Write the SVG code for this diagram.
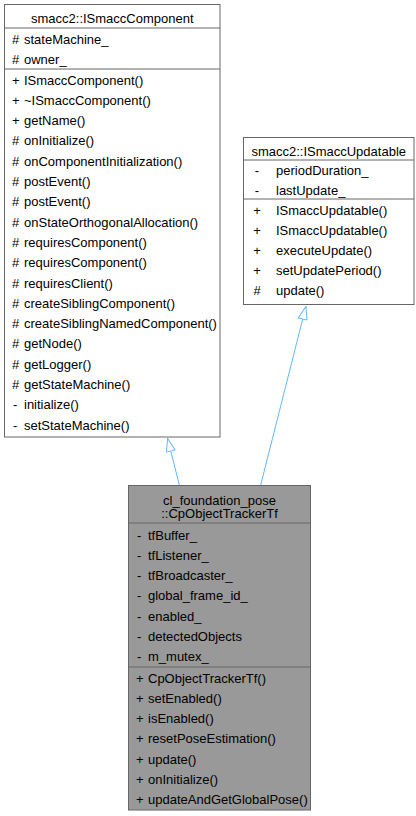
<svg xmlns="http://www.w3.org/2000/svg" width="416" height="816" viewBox="0 0 416 816">
<style>
.box{fill:#fff;stroke:#666;stroke-width:1}
.boxg{fill:#999;stroke:#666;stroke-width:1}
.sep{stroke:#666;stroke-width:1}
text{font-family:"Liberation Sans",Arial,sans-serif;font-size:13px;fill:#000}
.c{text-anchor:middle}
.edge{stroke:#63b8ff;stroke-width:1;fill:none;marker-end:url(#tri)}
</style>
<defs>
<marker id="tri" viewBox="0 0 14 10" refX="14" refY="5" markerWidth="14" markerHeight="10" markerUnits="userSpaceOnUse" orient="auto">
<path d="M0.5,0.5 L13.5,5 L0.5,9.5 Z" fill="#fff" stroke="#63b8ff" stroke-width="1"/>
</marker>
</defs>
<rect width="416" height="816" fill="#fff"/>
<g id="ISmaccComponent">
<rect class="box" x="4.5" y="4.5" width="215.5" height="432.5"/>
<line class="sep" x1="4.5" y1="28" x2="220" y2="28"/>
<line class="sep" x1="4.5" y1="69" x2="220" y2="69"/>
<text class="c" x="112.3" y="23">smacc2::ISmaccComponent</text>
<text x="12" y="44">#</text><text x="24" y="44">stateMachine_</text>
<text x="12" y="64.3">#</text><text x="24" y="64.3">owner_</text>
<text x="12" y="84.5">+</text><text x="24" y="84.5">ISmaccComponent()</text>
<text x="12" y="104.8">+</text><text x="24" y="104.8">~ISmaccComponent()</text>
<text x="12" y="125.1">+</text><text x="24" y="125.1">getName()</text>
<text x="12" y="145.4">#</text><text x="24" y="145.4">onInitialize()</text>
<text x="12" y="165.7">#</text><text x="24" y="165.7">onComponentInitialization()</text>
<text x="12" y="186">#</text><text x="24" y="186">postEvent()</text>
<text x="12" y="206.3">#</text><text x="24" y="206.3">postEvent()</text>
<text x="12" y="226.6">#</text><text x="24" y="226.6">onStateOrthogonalAllocation()</text>
<text x="12" y="246.9">#</text><text x="24" y="246.9">requiresComponent()</text>
<text x="12" y="267.2">#</text><text x="24" y="267.2">requiresComponent()</text>
<text x="12" y="287.5">#</text><text x="24" y="287.5">requiresClient()</text>
<text x="12" y="307.8">#</text><text x="24" y="307.8">createSiblingComponent()</text>
<text x="12" y="328.1">#</text><text x="24" y="328.1">createSiblingNamedComponent()</text>
<text x="12" y="348.4">#</text><text x="24" y="348.4">getNode()</text>
<text x="12" y="368.7">#</text><text x="24" y="368.7">getLogger()</text>
<text x="12" y="389">#</text><text x="24" y="389">getStateMachine()</text>
<text x="13" y="409.3">-</text><text x="24" y="409.3">initialize()</text>
<text x="13" y="429.6">-</text><text x="24" y="429.6">setStateMachine()</text>
</g>
<g id="ISmaccUpdatable">
<rect class="box" x="243.5" y="137.5" width="170.5" height="167"/>
<line class="sep" x1="243.5" y1="160" x2="414" y2="160"/>
<line class="sep" x1="243.5" y1="199" x2="414" y2="199"/>
<text class="c" x="328.7" y="155.5">smacc2::ISmaccUpdatable</text>
<text class="c" x="257" y="175">-</text><text x="276" y="175">periodDuration_</text>
<text class="c" x="257" y="194.5">-</text><text x="276" y="194.5">lastUpdate_</text>
<text class="c" x="257" y="214.5">+</text><text x="276" y="214.5">ISmaccUpdatable()</text>
<text class="c" x="257" y="234.5">+</text><text x="276" y="234.5">ISmaccUpdatable()</text>
<text class="c" x="257" y="254.5">+</text><text x="276" y="254.5">executeUpdate()</text>
<text class="c" x="257" y="274.5">+</text><text x="276" y="274.5">setUpdatePeriod()</text>
<text class="c" x="257" y="294.5">#</text><text x="276" y="294.5">update()</text>
</g>
<g id="CpObjectTrackerTf">
<rect class="boxg" x="128.5" y="485.5" width="182" height="324.5"/>
<line class="sep" x1="128.5" y1="523" x2="310.5" y2="523"/>
<line class="sep" x1="128.5" y1="667" x2="310.5" y2="667"/>
<text class="c" x="219.5" y="504.5">cl_foundation_pose</text>
<text class="c" x="219.5" y="518">::CpObjectTrackerTf</text>
<text x="137" y="539.5">-</text><text x="148" y="539.5">tfBuffer_</text>
<text x="137" y="559.8">-</text><text x="148" y="559.8">tfListener_</text>
<text x="137" y="580.1">-</text><text x="148" y="580.1">tfBroadcaster_</text>
<text x="137" y="600.4">-</text><text x="148" y="600.4">global_frame_id_</text>
<text x="137" y="620.7">-</text><text x="148" y="620.7">enabled_</text>
<text x="137" y="641">-</text><text x="148" y="641">detectedObjects</text>
<text x="137" y="661.3">-</text><text x="148" y="661.3">m_mutex_</text>
<text x="136" y="682.5">+</text><text x="148" y="682.5">CpObjectTrackerTf()</text>
<text x="136" y="702.8">+</text><text x="148" y="702.8">setEnabled()</text>
<text x="136" y="723.1">+</text><text x="148" y="723.1">isEnabled()</text>
<text x="136" y="743.4">+</text><text x="148" y="743.4">resetPoseEstimation()</text>
<text x="136" y="763.7">+</text><text x="148" y="763.7">update()</text>
<text x="136" y="784">+</text><text x="148" y="784">onInitialize()</text>
<text x="136" y="804.3">+</text><text x="148" y="804.3">updateAndGetGlobalPose()</text>
</g>
<g id="edges">
<path class="edge" d="M179.3,485 L167.5,438"/>
<path class="edge" d="M260.7,485 L306,306"/>
</g>
</svg>
